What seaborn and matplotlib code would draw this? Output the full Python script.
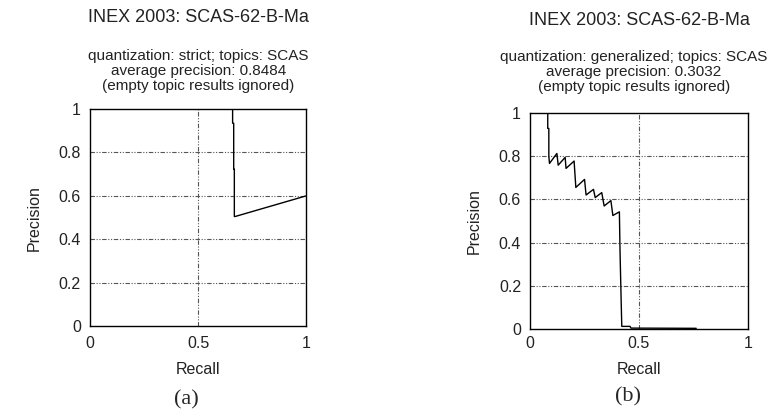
import numpy as np
import pandas as pd
import seaborn as sns
import matplotlib.pyplot as plt

# data
recall_a = [0.660, 0.660, 0.665, 0.665, 0.668, 0.668, 0.672, 1.000]
precision_a = [1.000, 0.935, 0.935, 0.723, 0.723, 0.505, 0.505, 0.600]

recall_b = [0.081, 0.081, 0.086, 0.086, 0.089, 0.123, 0.129, 0.161, 0.165,
            0.202, 0.210, 0.250, 0.257, 0.291, 0.299, 0.329, 0.340, 0.371,
            0.380, 0.410, 0.413, 0.418, 0.421, 0.459, 0.463, 0.763]
precision_b = [1.000, 0.928, 0.928, 0.800, 0.766, 0.812, 0.758, 0.794, 0.743,
               0.777, 0.655, 0.692, 0.620, 0.646, 0.608, 0.631, 0.569, 0.594,
               0.525, 0.542, 0.358, 0.135, 0.012, 0.012, 0.004, 0.003]

title = 'INEX 2003: SCAS-62-B-Ma'
sub_a = 'quantization: strict; topics: SCAS\naverage precision: 0.8484\n(empty topic results ignored)'
sub_b = 'quantization: generalized; topics: SCAS\naverage precision: 0.3032\n(empty topic results ignored)'

sns.set_style('white')
plt.rcParams['font.family'] = ['Liberation Sans', 'DejaVu Sans']

fig = plt.figure(figsize=(7.75, 4.18), dpi=100)
ax1 = fig.add_axes([0.116, 0.220, 0.279, 0.519])
ax2 = fig.add_axes([0.684, 0.213, 0.281, 0.517])

df_a = pd.DataFrame({'Recall': recall_a, 'Precision': precision_a})
df_b = pd.DataFrame({'Recall': recall_b, 'Precision': precision_b})

txt = '#222222'
grid_dash = (4, 1.5, 1, 1.5, 1, 1.5)

for ax, df, xpad, lpad in [(ax1, df_a, 7, 8), (ax2, df_b, 5, 8)]:
    sns.lineplot(data=df, x='Recall', y='Precision', ax=ax, sort=False,
                 estimator=None, color='black', linewidth=1.0)
    ax.set_xlim(0, 1)
    ax.set_ylim(0, 1)
    ax.set_xticks([0, 0.5, 1])
    ax.set_xticklabels(['0', '0.5', '1'])
    ax.set_yticks([0, 0.2, 0.4, 0.6, 0.8, 1])
    ax.set_yticklabels(['0', '0.2', '0.4', '0.6', '0.8', '1'])
    ax.tick_params(axis='y', length=0, labelsize=11.5, colors=txt, pad=6.5)
    ax.tick_params(axis='x', length=0, labelsize=11.5, colors=txt, pad=xpad)
    for v in [0.2, 0.4, 0.6, 0.8]:
        ax.axhline(v, color='#555555', lw=0.8, dashes=grid_dash, zorder=0)
    ax.axvline(0.5, color='#555555', lw=0.8, dashes=grid_dash, zorder=0)
    for s in ax.spines.values():
        s.set_color('black')
        s.set_linewidth(1.0)
    ax.set_xlabel('Recall', fontsize=11.5, color=txt, labelpad=lpad)
    ax.set_ylabel('Precision', fontsize=11.5, color=txt, labelpad=12)

# titles and panel labels
fig.text(0.256, 0.959, title, ha='center', va='center', fontsize=13, color=txt)
fig.text(0.256, 0.830, sub_a, ha='center', va='center', fontsize=11, color=txt,
         linespacing=1.1)
fig.text(0.825, 0.950, title, ha='center', va='center', fontsize=13, color=txt)
fig.text(0.818, 0.828, sub_b, ha='center', va='center', fontsize=11, color=txt,
         linespacing=1.1)
fig.text(0.241, 0.043, '(a)', ha='center', va='center', fontsize=16,
         family='Liberation Serif')
fig.text(0.810, 0.050, '(b)', ha='center', va='center', fontsize=16,
         family='Liberation Serif')

plt.savefig('out.png', dpi=100)
